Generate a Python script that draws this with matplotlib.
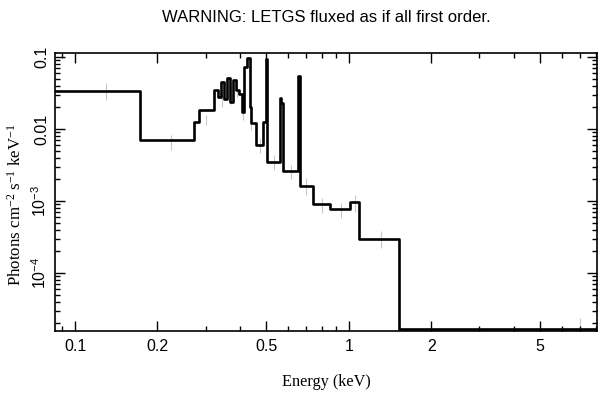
import numpy as np
import matplotlib
matplotlib.use('Agg')
import matplotlib.pyplot as plt
from matplotlib.ticker import LogLocator, NullFormatter

plt.rcParams['font.family'] = ['Liberation Sans', 'DejaVu Sans']
plt.rcParams['mathtext.default'] = 'regular'

# bin edges (keV) and flux per bin (photons cm^-2 s^-1 keV^-1)
edges = [0.08, 0.1727, 0.2725, 0.2836, 0.3215, 0.333, 0.341, 0.350, 0.359,
         0.368, 0.377, 0.387, 0.397, 0.407, 0.414, 0.424, 0.435,
         0.441, 0.460, 0.486, 0.497, 0.502, 0.560, 0.567, 0.576, 0.653,
         0.662, 0.737, 0.857, 1.006, 1.087, 1.524, 8.5]
flux = [0.0337, 0.0070, 0.0126, 0.0184, 0.035, 0.028, 0.045, 0.026, 0.051,
        0.024, 0.048, 0.035, 0.031, 0.017, 0.073, 0.097, 0.020,
        0.012, 0.006, 0.0126, 0.095, 0.0035, 0.027, 0.023, 0.0026, 0.055,
        0.0016, 0.00091, 0.00077, 0.00098, 0.000294, 1.65e-5]

# faint error bars
err_x = [0.13, 0.224, 0.300, 0.345, 0.37, 0.39, 0.412, 0.441, 0.473, 0.534,
         0.614, 0.697, 0.795, 0.935, 1.05, 1.31, 6.97]
err_lo = [0.0253, 0.0051, 0.0114, 0.020, 0.022, 0.028, 0.0134, 0.0097, 0.0046,
          0.0027, 0.0020, 0.00121, 0.00068, 0.00058, 0.00071, 0.00022, 1.5e-5]
err_hi = [0.0435, 0.0083, 0.0156, 0.034, 0.040, 0.050, 0.0184, 0.0156, 0.0075,
          0.0044, 0.0032, 0.00209, 0.0011, 0.00094, 0.00121, 0.00038, 2.4e-5]

fig = plt.figure(figsize=(6.09, 3.98), dpi=100)
ax = fig.add_axes([0.0903, 0.1683, 0.8907, 0.6985])

ax.vlines(err_x, err_lo, err_hi, colors='#c8c8c8', linewidth=0.8, zorder=1)
ax.step(edges, flux + [flux[-1]], where='post', color='black', linewidth=1.9, zorder=2)

ax.set_xscale('log')
ax.set_yscale('log')
ax.set_xlim(0.0845, 8.09)
ax.set_ylim(1.56e-5, 0.1137)

for s in ax.spines.values():
    s.set_linewidth(1.2)

ax.set_xticks([0.1, 0.2, 0.5, 1, 2, 5], ['0.1', '0.2', '0.5', '1', '2', '5'])
ax.xaxis.set_minor_locator(LogLocator(base=10, subs=np.arange(2, 10) * 1.0, numticks=20))
ax.xaxis.set_minor_formatter(NullFormatter())
ax.set_yticks([1e-4, 1e-3, 1e-2, 1e-1], ['$10^{-4}$', '$10^{-3}$', '0.01', '0.1'])
ax.yaxis.set_minor_locator(LogLocator(base=10, subs=np.arange(2, 10) * 1.0, numticks=20))
ax.yaxis.set_minor_formatter(NullFormatter())

ax.tick_params(which='both', direction='in', top=True, right=True, width=1.0)
ax.tick_params(which='major', length=7, labelsize=11.5)
ax.tick_params(which='minor', length=3.5)
ax.tick_params(axis='x', pad=6)
ax.tick_params(axis='y', pad=4)
for lab in ax.get_yticklabels():
    lab.set_rotation(90)
    lab.set_va('center')

ax.set_xlabel('Energy (keV)', family='Liberation Serif', fontsize=11.7, labelpad=14)
ax.set_ylabel('Photons cm$^{-2}$ s$^{-1}$ keV$^{-1}$', family='Liberation Serif',
              fontsize=12.2)
ax.yaxis.set_label_coords(-0.056, 0.453)
ax.set_title('WARNING: LETGS fluxed as if all first order.', fontsize=12, pad=22)

fig.savefig('out.png', dpi=100)
